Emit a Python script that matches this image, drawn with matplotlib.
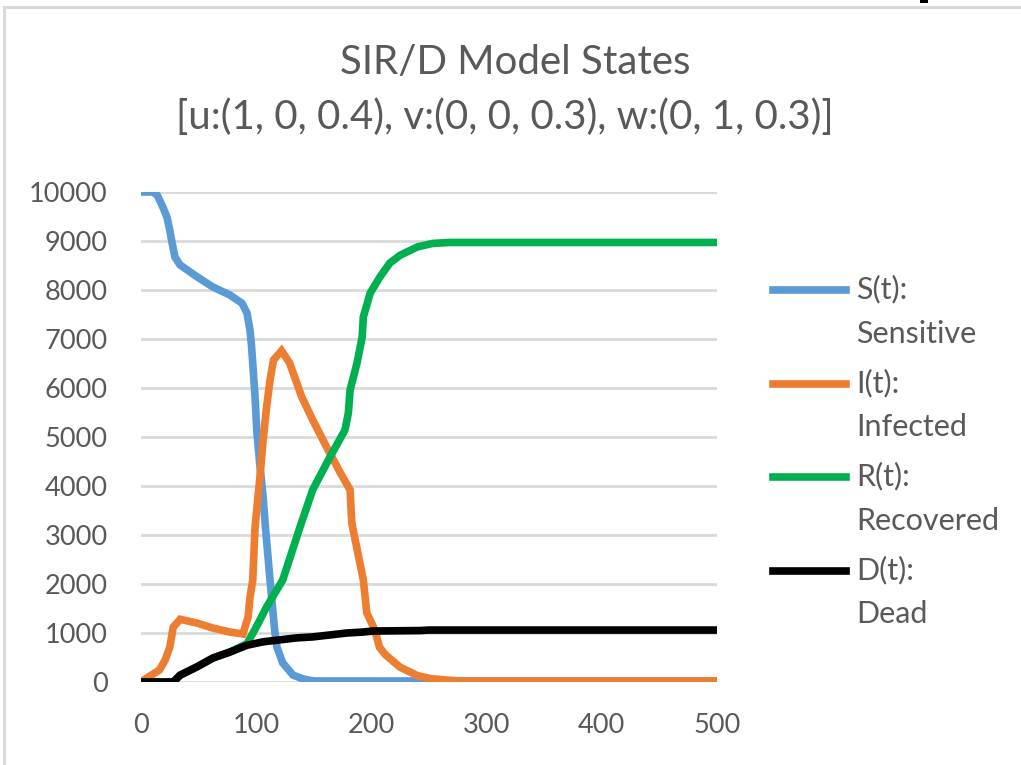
import matplotlib.pyplot as plt
from matplotlib.lines import Line2D
from matplotlib.patches import Rectangle

plt.rcParams['font.family'] = ['Lato', 'DejaVu Sans']

# values (t in days, counts of people)
t_s = [0, 10, 14, 19, 22.5, 25, 27, 29.5, 34, 48.6, 62.5, 77, 87.7, 92, 94.6, 96,
       99, 100.5, 103, 106, 108, 112, 116, 118, 123, 132, 141, 150, 500]
s_vals = [10000, 10000, 9940, 9690, 9490, 9220, 8960, 8670, 8510, 8270, 8060, 7900, 7730,
          7530, 7180, 6840, 5820, 5140, 4470, 3780, 3160, 2080, 1060, 710, 390, 140, 60, 20, 20]

t_i = [0, 5, 16, 21, 25, 28, 34, 49, 62.5, 77, 88.5, 93, 94.6, 97, 99, 103, 106, 109,
       112, 115, 122, 129, 139.5, 149, 161, 173, 181.5, 183, 193, 196, 203, 207, 212,
       225, 240, 251, 265, 277, 500]
i_vals = [0, 80, 245, 450, 710, 1120, 1280, 1200, 1100, 1020, 980, 1330, 1730, 2080,
          3160, 4120, 4940, 5610, 6160, 6570, 6760, 6510, 5820, 5350, 4800, 4270, 3920,
          3240, 2080, 1410, 1060, 710, 560, 300, 130, 70, 40, 20, 20]

t_r = [0, 28, 34, 48.6, 62.5, 77, 92, 100, 109, 123, 138, 149, 164, 177, 180, 181.5,
       187.5, 192, 193, 199, 207.5, 216, 225, 240, 253, 268, 500]
r_vals = [0, 0, 140, 310, 490, 610, 780, 1120, 1530, 2080, 3160, 3920, 4590, 5140, 5490,
          5960, 6510, 7040, 7450, 7940, 8270, 8550, 8710, 8880, 8950, 8970, 8970]

t_d = [0, 28, 34, 48.6, 62.5, 77, 92, 106, 120.6, 135, 149, 164, 178.6, 193, 201, 242,
       250, 500]
d_vals = [0, 0, 140, 310, 490, 610, 750, 820, 860, 900, 920, 960, 1000, 1020, 1040, 1050,
          1060, 1060]

labels = ['S(t):\nSensitive', 'I(t):\nInfected', 'R(t):\nRecovered', 'D(t):\nDead']
colors = ['#5B9BD5', '#ED7D31', '#00B050', '#000000']
title1 = 'SIR/D Model States'
title2 = '[u:(1, 0, 0.4), v:(0, 0, 0.3), w:(0, 1, 0.3)]'

fig = plt.figure(figsize=(10.21, 7.65), dpi=100)
ax = fig.add_axes([141 / 1021, 83 / 765, 576 / 1021, 490 / 765])

series = [(t_s, s_vals), (t_i, i_vals), (t_r, r_vals), (t_d, d_vals)]
for (tt, vv), c, lab in zip(series, colors, labels):
    ax.plot(tt, vv, color=c, lw=5.5, label=lab, solid_joinstyle='miter')

ax.set_xlim(0, 500)
ax.set_ylim(0, 10000)
ax.set_xticks(range(0, 501, 100))
ax.set_yticks(range(0, 10001, 1000))
ax.grid(axis='y', color='#D9D9D9', lw=2)
ax.set_axisbelow(True)
for sp in ax.spines.values():
    sp.set_visible(False)
ax.tick_params(length=0, labelsize=19.5, labelcolor='#595959')
ax.tick_params(axis='y', pad=24)
ax.tick_params(axis='x', pad=22)

fig.text(515 / 1021, 1 - 62 / 765, title1, ha='center', va='center', fontsize=29,
         color='#595959')
fig.text(505 / 1021, 1 - 117 / 765, title2, ha='center', va='center', fontsize=29,
         color='#595959')

leg = fig.legend(loc='upper left', bbox_to_anchor=(773 / 1021, 1 - 275 / 765),
                 frameon=False, fontsize=22, handlelength=2.4, handletextpad=0.33,
                 labelspacing=0.68, labelcolor='#595959', borderpad=0,
                 borderaxespad=0)
for t in leg.get_texts():
    t.set_linespacing(1.7)
for h in leg.legend_handles:
    h.set_linewidth(5.5)
    y0 = h.get_ydata()
    h.set_ydata([y + 15.8 for y in y0])

# chart border (partly cropped in the original screenshot)
fig.add_artist(Line2D([4 / 1021, 4 / 1021], [0, 1 - 6.5 / 765], color='#D9D9D9', lw=2.2))
fig.add_artist(Line2D([4 / 1021, 1], [1 - 6.5 / 765, 1 - 6.5 / 765], color='#D9D9D9', lw=2.2))
# small dark fragment at the top edge of the screenshot
fig.add_artist(Rectangle((920 / 1021, 1 - 3 / 765), 8 / 1021, 3 / 765,
                         transform=fig.transFigure, color='black', lw=0))

fig.savefig('out.png', dpi=100)
